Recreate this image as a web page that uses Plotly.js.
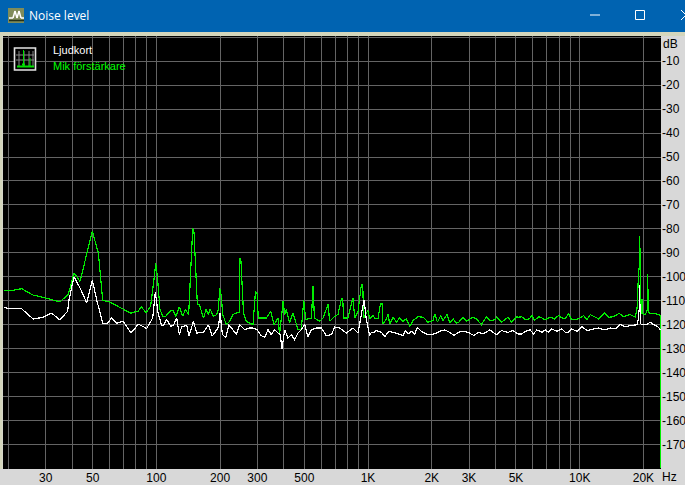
<!DOCTYPE html>
<html><head><meta charset="utf-8">
<script src="https://cdn.plot.ly/plotly-3.0.1.min.js"></script>
<style>html,body{margin:0;padding:0;background:#d8d8d8;overflow:hidden}
.scatterlayer path,.gridlayer path{shape-rendering:crispEdges}</style>
</head><body><div id="chart" style="width:685px;height:485px"></div>
<script>
const greenFreqLow=[19,20.3,23.1,26.2,29.2,35,38.4,40.8,43.6,47.2,49.8,53.2,55.8,60.4,64.9,69.8,75.6,82.2,85,89.4,94,97.8,99.3,101.1,104,107.1,110.7,116,119.5,123.9,128.4,133.2,137.1,142.1,145.3,148.5,150.7,154,156.2,159.7,166.8,171.7,176.1,179.3,186,192.8,196.3,199.3,202.1,206,214,222,230,239,246,248,251,255,258,266,276,286,294,299,303,313,331,347,360,376,382,397,404,411,426,442,467,484,497,507,530,540,550,558,591,613,647,659,696,721,748,759,767,804,849,865,897,930,944,954,982];
const greenDbLow=[-105.6,-105.9,-105,-107.7,-108.6,-110.5,-107.4,-98.4,-101.9,-90,-81,-90,-109.8,-110.6,-112,-113.7,-115.2,-114.3,-112.6,-115,-112.3,-99.8,-94.5,-99.8,-113.7,-116.5,-116.5,-114.4,-114,-116.5,-112.6,-116.5,-113.7,-115.8,-98.4,-79.6,-81.7,-98.4,-111.6,-111.6,-117.3,-113.7,-115.8,-113.4,-116.5,-115.8,-113.7,-104.7,-107.4,-115.8,-120,-118.6,-115.8,-115.1,-115.1,-92.1,-93.5,-106.1,-115.1,-118.6,-119.3,-120,-106.1,-106.8,-117.2,-117.2,-117.2,-114.4,-120,-117.2,-124.2,-110.3,-115.8,-113.7,-119.3,-115.1,-122.1,-122.1,-109.6,-117.9,-117.2,-117.2,-104,-117.2,-118.6,-117.2,-111.6,-118.6,-116.5,-115.8,-109.3,-109.3,-117.2,-117.2,-108.9,-117.2,-114.4,-103.3,-103.3,-117.2,-115.1];
const greenFreqHigh=[1000,1018,1056,1083,1115,1144,1165,1173,1208,1243,1266,1313,1361,1411,1464,1518,1574,1632,1723,1820,1921,2029,2066,2127,2205,2262,2362,2432,2522,2615,2682,2812,2915,3135,3251,3433,3625,3758,3968,4042,4267,4587,4758,5023,5140,5330,5527,5773,5944,6118,6392,6626,6869,7256,7604,7944,8236,8540,8856,9183,9875,10426,10815,11215,11839,12275,13104,13686,14452,15372,16115,17327,18294,18664,19000,19120,19213,19290,19423,19650,19711,19790,20400,20900,20968,21040,21306,22333,23580,24100,24120];
const greenDbHigh=[-114.2,-117.6,-116.2,-117.6,-117.6,-111.4,-111.4,-119.7,-118.3,-115.8,-119.7,-116.9,-119,-117.2,-118.6,-117.6,-120.8,-118.3,-116.7,-116.9,-119,-118.3,-115.5,-119,-116.2,-118.3,-115.8,-119.4,-117.6,-119.4,-119,-116.9,-118.6,-116.9,-117.6,-120,-116.7,-118.3,-118,-116.9,-119,-116.9,-119,-116.7,-116.9,-116.7,-118,-117.6,-116.2,-118.3,-116.7,-117.2,-118,-116.9,-117.6,-116.2,-117.2,-117.6,-115.5,-118,-117.6,-116.2,-118,-115.8,-116.9,-117.6,-115,-116.9,-116.7,-115.3,-116.7,-115.8,-116.9,-113,-96.3,-97,-82.8,-103,-113,-115.5,-109.5,-115.5,-115.8,-113.7,-98.8,-113.7,-115.3,-115.3,-115.8,-116.2,-180];
const whiteFreqLow=[19,20,23.1,26.2,29.2,32,35,38.1,38.7,40.8,43.6,46.9,49.8,52.2,55.8,58.9,61.5,64.9,69.8,75.9,82.2,90,96.1,98.9,101.8,106,107.9,111.9,116.9,120.3,124.8,128.4,131.7,139.1,142.7,149.6,155.1,166.8,176.1,183.9,196.3,200,205,212.5,220,230,239,247.4,261,276,286,299,313,325,337,349,362,376,385,392,404,418,434,450,467,484,502,520,540,570,602,635,671,696,735,790,849,897,913,940,957,982];
const whiteDbLow=[-112.6,-113.4,-113.4,-117.7,-116.9,-115.2,-118,-114.4,-109.5,-100,-104.7,-110.9,-101.4,-109.5,-119.4,-119.4,-117.2,-119.4,-118.6,-123.5,-119.8,-121.6,-117.2,-106.5,-115,-120.4,-120.4,-117.9,-120.7,-120.4,-117.2,-124.2,-120.9,-120.4,-124.8,-118.6,-123.5,-123.2,-120.1,-124.8,-121.1,-115,-124,-125.5,-120,-122.1,-124.2,-120,-122.1,-121.4,-121.4,-122.1,-124.6,-125.2,-122.1,-124.2,-122.1,-123.5,-124.2,-130.2,-122.1,-125.6,-124.2,-126.3,-123.5,-122.1,-120,-125.2,-122.1,-121.4,-121.4,-124.6,-124.2,-121,-121.4,-123.5,-121.4,-123.5,-120,-113.7,-109.6,-117.9];
const whiteFreqHigh=[1018,1037,1067,1095,1156,1199,1252,1313,1386,1464,1501,1546,1602,1662,1710,1787,1887,1992,2103,2182,2303,2432,2549,2663,2812,2970,3170,3311,3496,3758,4042,4267,4587,4841,5115,5330,5527,5836,6052,6276,6626,6869,7123,7390,7802,8236,8540,8856,9183,9697,10241,10815,11626,12275,13104,13939,14716,15539,16406,17327,18294,18764,19100,19143,19352,19600,20770,21540,22333,23580,24018];
const whiteDbHigh=[-124.6,-123.2,-123.2,-122.5,-123.2,-125,-122.8,-123.2,-123.9,-124.6,-122.5,-123.9,-122.8,-123.9,-121.1,-122.8,-123.9,-124.2,-123.6,-122.8,-122.2,-123.2,-124.6,-123.2,-122.8,-123.2,-124.6,-123.2,-123.9,-122.2,-124.2,-122.5,-123.2,-122.5,-123.9,-123.9,-122.8,-122.2,-123.9,-122.2,-123.2,-122.2,-123.2,-121.8,-122.8,-121.8,-123.2,-123.2,-121.8,-122.8,-120.8,-122.5,-121.8,-121.4,-122.2,-121.4,-121.8,-120,-120.8,-120.4,-120,-120,-113.7,-103.3,-119.5,-120,-120,-119,-120,-121.1,-122.2];
const xGrid=[20,30,40,50,60,70,80,90,100,200,300,400,500,600,700,800,900,1000,2000,3000,4000,5000,6000,7000,8000,9000,10000,20000];
const xLabels=['','30','','50','','','','','100','200','300','','500','','','','','1K','2K','3K','','5K','','','','','10K','20K'];
const yGrid=[0,-10,-20,-30,-40,-50,-60,-70,-80,-90,-100,-110,-120,-130,-140,-150,-160,-170];
const yLabels=['','-10','-20','-30','-40','-50','-60','-70','-80','-90','-100','-110','-120','-130','-140','-150','-160','-170'];
const seriesNames=['Ljudkort','Mik förstärkare'];
const windowTitle='Noise level';

const L=3,R=661,T=36,B=469;
const px=x=>(x-L)/(R-L), py=y=>(B-y)/(B-T);
const rect=(x0,y0,x1,y1,fill,line,w)=>({type:'rect',xref:'paper',yref:'paper',x0:px(x0),x1:px(x1),y0:py(y0),y1:py(y1),fillcolor:fill,line:{color:line||fill,width:line?(w||1):0},layer:'above'});
const seg=(x0,y0,x1,y1,color,w)=>({type:'line',xref:'paper',yref:'paper',x0:px(x0),x1:px(x1),y0:py(y0),y1:py(y1),line:{color:color,width:w||1},layer:'above'});
const shapes=[
 rect(0,0,685,32,'#0063b1'),
 rect(0,32,685,36,'#d4d6bc'),
 rect(0,32,2.5,469,'#d4d6bc'),
 rect(8,8,24,23,'#7f8c5a'),
 seg(9,18,13,18,'#fff',1.5),seg(13,18,15,11,'#fff',1.5),seg(15,11,17,18,'#fff',1.5),seg(17,18,19,11,'#fff',1.5),seg(19,11,21,18,'#fff',1.5),seg(21,18,24,18,'#fff',1.5),
 seg(9,20.5,24,20.5,'#24301a',1.5),
 seg(590,15,600,15,'#fff',1),
 rect(635.5,10.5,644.5,19.5,'rgba(0,0,0,0)','#fff'),
 seg(681,10,685,14,'#fff',1),seg(681,20,685,16,'#fff',1),
 rect(14.5,48,35.5,70,'#000','#e4e4e4',1.6),
 seg(19,51,19,67,'#888'),seg(24,51,24,67,'#888'),seg(29,51,29,67,'#888'),seg(33,51,33,67,'#888'),
 seg(16,55,34,55,'#888'),seg(16,60,34,60,'#888'),
 seg(17,66.5,34,66.5,'#00e000',2),seg(23.5,50,23.5,67,'#00e000',1),seg(30,58,30,67,'#00e000',1),seg(22,64.5,25,64.5,'#00e000',2)
];
const annotations=[
 {text:windowTitle,x:px(29),y:py(15.5),font:{family:'Open Sans, Noto Sans, sans-serif',size:12,color:'#fff'}},
 {text:seriesNames[0],x:px(53),y:py(50),font:{family:'Liberation Sans, sans-serif',size:11,color:'#fff'}},
 {text:seriesNames[1],x:px(53),y:py(66),font:{family:'Liberation Sans, sans-serif',size:11,color:'#00ff00'}},
 {text:'dB',x:px(663),y:py(43.5),font:{family:'Liberation Sans, sans-serif',size:12,color:'#000'}},
 {text:'Hz',x:px(662),y:py(477),font:{family:'Liberation Sans, sans-serif',size:12,color:'#000'}}
].map(a=>Object.assign({xref:'paper',yref:'paper',xanchor:'left',yanchor:'middle',showarrow:false,borderpad:0,borderwidth:0},a));

const data=[
 {name:seriesNames[1],x:greenFreqLow.concat(greenFreqHigh),y:greenDbLow.concat(greenDbHigh),type:'scatter',mode:'lines',line:{color:'#00ee00',width:1.2},hoverinfo:'skip'},
 {name:seriesNames[0],x:whiteFreqLow.concat(whiteFreqHigh),y:whiteDbLow.concat(whiteDbHigh),type:'scatter',mode:'lines',line:{color:'#ffffff',width:1.2},hoverinfo:'skip'}
];
const layout={
 width:685,height:485,margin:{l:L,r:685-R,t:T,b:485-B,pad:0},
 paper_bgcolor:'#d8d8d8',plot_bgcolor:'#000',showlegend:false,
 font:{family:'Liberation Sans, sans-serif',size:12,color:'#000'},
 xaxis:{type:'log',range:[1.2755,4.384],tickmode:'array',tickvals:xGrid,ticktext:xLabels,tickangle:0,
  showgrid:true,gridcolor:'#646464',gridwidth:1,ticks:'',zeroline:false,showline:false,automargin:false,tickfont:{size:12}},
 yaxis:{side:'right',range:[-180.3,0.55],tickmode:'array',tickvals:yGrid,ticktext:yLabels,
  showgrid:true,gridcolor:'#646464',gridwidth:1,ticks:'',zeroline:false,showline:false,automargin:false,tickfont:{size:12}},
 shapes,annotations
};
Plotly.newPlot('chart',data,layout,{displayModeBar:false,staticPlot:true});
</script></body></html>
